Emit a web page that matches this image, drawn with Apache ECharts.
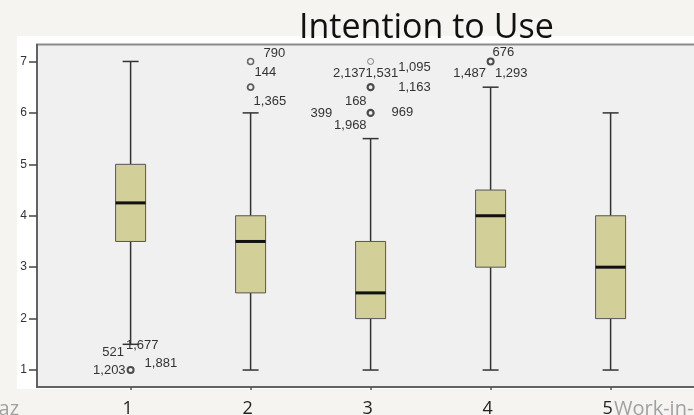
<!DOCTYPE html>
<html>
<head>
<meta charset="utf-8">
<script src="https://cdn.jsdelivr.net/npm/echarts@6/dist/echarts.min.js"></script>
<style>
html,body{margin:0;padding:0;background:#f5f4f0;}
#chart{width:694px;height:415px;}
</style>
</head>
<body>
<div id="chart"></div>
<script>
// ---- data ----
const categories = ['1', '2', '3', '4', '5'];
const lowWhisker = [1.5, 1, 1, 1, 1];
const q1 = [3.5, 2.5, 2, 3, 2];
const median = [4.25, 3.5, 2.5, 4, 3];
const q3 = [5, 4, 3.5, 4.5, 4];
const highWhisker = [7, 6, 5.5, 6.5, 6];
const yTicks = [1, 2, 3, 4, 5, 6, 7];

// outliers: category position and value
const outlierCat = [1, 2, 2, 3, 3, 3, 4];
const outlierValue = [1, 7, 6.5, 7, 6.5, 6, 7];

// case labels of outliers
const caseCat = [1, 1, 1, 1, 2, 2, 2, 3, 3, 3, 3, 3, 3, 3, 3, 4, 4, 4];
const caseValue = [1.5, 1.5, 1, 1, 7, 7, 6.5, 7, 7, 7, 6.5, 6.5, 6, 6, 6, 7, 7, 7];
const caseText = ['521', '1,677', '1,203', '1,881', '790', '144', '1,365',
  '2,137', '1,531', '1,095', '1,163', '168', '399', '969', '1,968',
  '676', '1,487', '1,293'];

// ---- layout/styles (not data) ----
const caseOffset = [[-6.7, 8.4, 'right'], [-4.7, 0.7, 'left'], [-5, 0.7, 'right'], [14, -6.7, 'left'],
  [13, -8.3, 'left'], [4, 11, 'left'], [3, 14.5, 'left'],
  [-5, 12, 'right'], [-5, 12, 'left'], [27.6, 6, 'left'], [27.6, 0, 'left'], [-4, 14, 'right'],
  [-38.4, 1, 'right'], [21, -0.5, 'left'], [-4, 13, 'right'],
  [2, -9, 'left'], [-4.7, 12, 'right'], [4.3, 12, 'left']];
const outlierStroke = [[2, '#222'], [1.5, '#444'], [1.8, '#333'], [1, '#666'], [2.2, '#222'], [2.2, '#222'], [2, '#222']];

const xMin = 0.22, xMax = 5.9, yMin = 0.67, yMax = 7.33;

const boxData = categories.map((c, i) => [i + 1, lowWhisker[i], q1[i], median[i], q3[i], highWhisker[i]]);
const outlierData = outlierCat.map((c, i) => ({
  value: [c, outlierValue[i]],
  itemStyle: { borderWidth: outlierStroke[i][0], borderColor: outlierStroke[i][1] }
}));
const caseData = caseCat.map((c, i) => [c, caseValue[i], i]);

const chart = echarts.init(document.getElementById('chart'));
chart.setOption({
  backgroundColor: '#f5f4f0',
  animation: false,
  title: {
    text: 'Intention to Use',
    left: 299,
    top: 11,
    padding: 0,
    textStyle: { fontFamily: 'Open Sans', fontSize: 34, fontWeight: 'normal', color: '#111' }
  },
  graphic: [
    { type: 'rect', z: -10, silent: true, shape: { x: 17, y: 36, width: 690, height: 353 }, style: { fill: '#ffffff' } },
    { type: 'text', x: 19, y: 399, style: { text: 'az', align: 'right', verticalAlign: 'top', fontFamily: 'Open Sans', fontSize: 20, fill: '#a0a0a0' } },
    { type: 'text', x: 614, y: 399, style: { text: 'Work-in-progress', verticalAlign: 'top', fontFamily: 'Open Sans', fontSize: 20, fill: '#a0a0a0' } }
  ],
  grid: {
    left: 37, top: 44.5, height: 342.5, width: (xMax - xMin) * 120,
    outerBoundsMode: 'none', containLabel: false,
    show: true, backgroundColor: '#f0f0f0', borderColor: '#8a8a8a', borderWidth: 2
  },
  xAxis: {
    type: 'value', min: xMin, max: xMax,
    splitLine: { show: false },
    axisLine: { show: true, lineStyle: { color: '#555', width: 1.5 } },
    axisTick: { show: true, length: 3, customValues: [1, 2, 3, 4, 5], lineStyle: { color: '#555', width: 1.5 } },
    axisLabel: {
      customValues: [1, 2, 3, 4, 5],
      formatter: v => categories[Math.round(v) - 1],
      fontFamily: 'Open Sans', fontSize: 18, color: '#222', margin: 13,
      padding: [0, 6, 0, 0]
    }
  },
  yAxis: {
    type: 'value', min: yMin, max: yMax,
    splitLine: { show: false },
    axisLine: { show: true, lineStyle: { color: '#555', width: 1.5 } },
    axisTick: { show: true, length: 8, customValues: yTicks, lineStyle: { color: '#444', width: 1.5 } },
    axisLabel: { customValues: yTicks, fontFamily: 'Liberation Sans', fontSize: 12, color: '#333', margin: 10 }
  },
  series: [
    {
      type: 'custom',
      data: boxData,
      encode: { x: 0, y: [1, 2, 3, 4, 5] },
      renderItem: function (params, api) {
        const x = api.value(0);
        const pLow = api.coord([x, api.value(1)]);
        const pQ1 = api.coord([x, api.value(2)]);
        const pMed = api.coord([x, api.value(3)]);
        const pQ3 = api.coord([x, api.value(4)]);
        const pHigh = api.coord([x, api.value(5)]);
        const cx = pMed[0];
        const hb = api.size([0.25, 0])[0] / 2;
        const hc = api.size([0.133, 0])[0] / 2;
        const ws = { stroke: '#333', lineWidth: 1.5 };
        return {
          type: 'group',
          children: [
            { type: 'line', shape: { x1: cx, y1: pLow[1], x2: cx, y2: pQ1[1] }, style: ws },
            { type: 'line', shape: { x1: cx, y1: pQ3[1], x2: cx, y2: pHigh[1] }, style: ws },
            { type: 'line', shape: { x1: cx - hc, y1: pLow[1], x2: cx + hc, y2: pLow[1] }, style: ws },
            { type: 'line', shape: { x1: cx - hc, y1: pHigh[1], x2: cx + hc, y2: pHigh[1] }, style: ws },
            { type: 'rect', shape: { x: cx - hb, y: pQ3[1], width: 2 * hb, height: pQ1[1] - pQ3[1] },
              style: { fill: '#d3cf99', stroke: '#555', lineWidth: 1 } },
            { type: 'line', shape: { x1: cx - hb, y1: pMed[1], x2: cx + hb, y2: pMed[1] },
              style: { stroke: '#111', lineWidth: 3 } }
          ]
        };
      }
    },
    {
      type: 'scatter',
      symbol: 'circle',
      symbolSize: 6,
      data: outlierData,
      itemStyle: { color: 'rgba(0,0,0,0)' },
      z: 3
    },
    {
      type: 'custom',
      data: caseData,
      encode: { x: 0, y: 1 },
      z: 4,
      renderItem: function (params, api) {
        const p = api.coord([api.value(0), api.value(1)]);
        const idx = api.value(2);
        const off = caseOffset[idx];
        return {
          type: 'text',
          x: p[0] + off[0], y: p[1] + off[1],
          style: {
            text: caseText[idx], align: off[2], verticalAlign: 'middle',
            fontFamily: 'Liberation Sans', fontSize: 13, fill: '#333'
          }
        };
      }
    }
  ]
});
</script>
</body>
</html>
